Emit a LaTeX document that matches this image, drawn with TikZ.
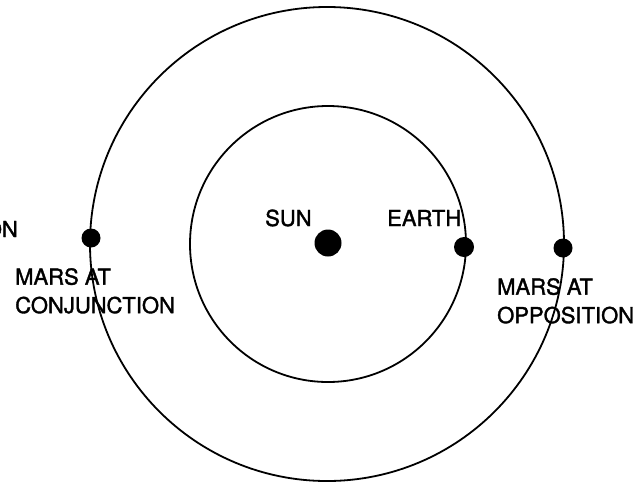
\documentclass[tikz,border=0pt]{standalone}
\usepackage{fontspec}
\setmainfont{TeX Gyre Heros}
\newfontfamily\lblfont{TeX Gyre Heros}[FakeBold=1.6]
\usetikzlibrary{positioning}

\begin{document}
\begin{tikzpicture}[
    x=1pt, y=-1pt,
    orbit/.style={draw, line width=1.8pt},
    planet/.style={circle, fill, inner sep=0pt, minimum size=19pt},
    lbl/.style={font=\lblfont\fontsize{22}{28.5}\selectfont, inner sep=0pt, align=left}
]
    \useasboundingbox (0,0) rectangle (644,485);
    \clip (0,0) rectangle (644,485);

    % orbits
    \draw[orbit] (327,244) circle[radius=237pt];
    \draw[orbit] (328,244) circle[radius=138pt];

    % bodies
    \node[planet, minimum size=27pt] (sun) at (328,243) {};
    \node[planet, minimum size=20pt] (earth) at (464,247) {};
    \node[planet] (marsconj) at (91,238) {};
    \node[planet] (marsopp) at (563,248) {};

    % labels
    \node[lbl, anchor=base west] (sunlbl) at (265,226) {SUN};
    \node[lbl, anchor=base west] (earthlbl) at (387,226) {EARTH};
    \node[lbl, anchor=north west] (conjlbl) at (15,268) {MARS AT\\CONJUNCTION};
    \node[lbl, anchor=north west] (opplbl) at (497,278) {MARS AT\\OPPOSITION};
    \node[lbl, anchor=base east] (cutlbl) at (18,237) {ON};
\end{tikzpicture}
\end{document}
